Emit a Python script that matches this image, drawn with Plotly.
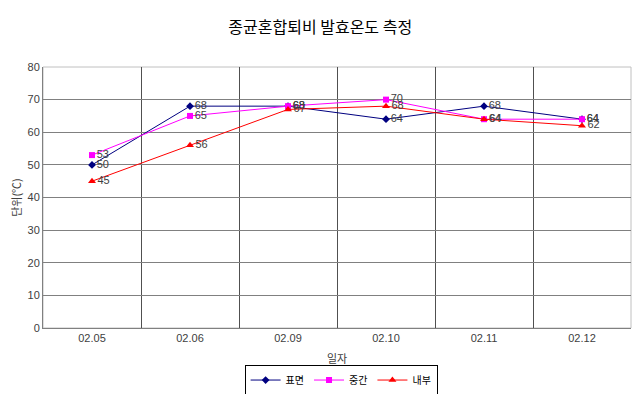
import plotly.graph_objects as go

dates = ["02.05", "02.06", "02.09", "02.10", "02.11", "02.12"]
surface = [50, 68, 68, 64, 68, 64]
middle = [53, 65, 68, 70, 64, 64]
inner = [45, 56, 67, 68, 64, 62]

series = [
    ("표면", surface, "#000080", "diamond", 6),
    ("중간", middle, "#FF00FF", "square", 6),
    ("내부", inner, "#FF0000", "triangle-up", 7),
]

FONT = "Liberation Sans, Arial, Noto Sans CJK KR, sans-serif"
KFONT = "Noto Sans CJK KR, sans-serif"

fig = go.Figure()
for name, vals, color, sym, size in series:
    fig.add_trace(go.Scatter(
        x=dates, y=vals, name=name, mode="lines+markers+text",
        line=dict(color=color, width=1),
        marker=dict(symbol=sym, size=size, color=color),
        text=[str(v) for v in vals], textposition="middle right",
        textfont=dict(size=11, color="#404040", family=FONT),
        cliponaxis=False,
    ))

fig.update_layout(
    width=632, height=386,
    margin=dict(l=35, r=9, t=59, b=66, autoexpand=False),
    paper_bgcolor="white", plot_bgcolor="white",
    font=dict(family=FONT, size=11, color="#333333"),
    title=dict(text="종균혼합퇴비 발효온도 측정", x=0.494, xanchor="center", y=0.951, yanchor="middle",
               font=dict(family=KFONT, size=16, color="#000000")),
    showlegend=True,
    legend=dict(orientation="h", x=0.507, xanchor="center", y=-0.14, yanchor="top",
                bordercolor="#000000", borderwidth=1, font=dict(size=10, family=KFONT, color="#000000"),
                itemwidth=30, tracegroupgap=0),
)
fig.update_xaxes(
    type="category", range=[-0.5, 5.5], tickson="boundaries", automargin=False,
    showgrid=True, gridcolor="#505050", gridwidth=1,
    showline=True, linecolor="#808080", linewidth=1, mirror=False,
    ticks="", tickfont=dict(size=11, color="#404040"),
    title=dict(text="일자", font=dict(size=11, family=KFONT, color="#404040"), standoff=12),
)
fig.update_yaxes(
    range=[0, 80], dtick=10, showgrid=True, gridcolor="#808080", gridwidth=1, automargin=False,
    showline=True, linecolor="#808080", linewidth=1, zeroline=False,
    ticks="", tickfont=dict(size=11, color="#404040"),
    title=dict(text="단위(℃)", font=dict(size=11, family=KFONT, color="#404040"), standoff=6),
)
fig.add_shape(type="rect", xref="paper", yref="paper", x0=0, x1=1, y0=0, y1=1,
              line=dict(color="#C0C0C0", width=1), layer="below")

fig.write_html("out.html")
